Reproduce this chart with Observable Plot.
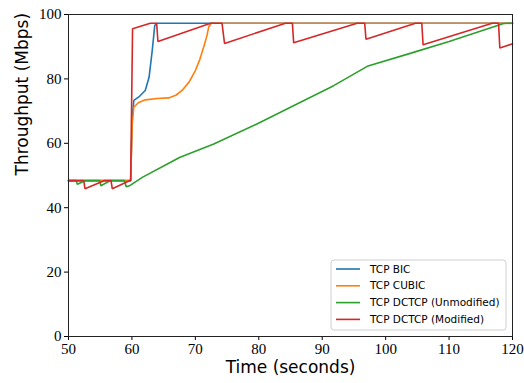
<!DOCTYPE html>
<html>
<head>
<meta charset="utf-8">
<script src="https://cdn.jsdelivr.net/npm/d3@7"></script>
<script src="https://cdn.jsdelivr.net/npm/@observablehq/plot@0.6"></script>
<style>
  html, body { margin: 0; padding: 0; background: #fff; }
  #chart svg { display: block; }
</style>
</head>
<body>
<div id="chart"></div>
<script>
// ---- data ----
const seriesNames = ["TCP BIC", "TCP CUBIC", "TCP DCTCP (Unmodified)", "TCP DCTCP (Modified)"];
const seriesColors = ["#1f77b4", "#ff7f0e", "#2ca02c", "#d62728"];
const xTicks = [50, 60, 70, 80, 90, 100, 110, 120];
const yTicks = [0, 20, 40, 60, 80, 100];

const bicTime = [50, 59.8, 60.05, 60.3, 61.2, 62.1, 62.7, 63.2, 63.6, 63.9, 120];
const bicThroughput = [48.4, 48.4, 68, 73.3, 74.6, 76.4, 80.5, 88.8, 96.6, 97.3, 97.3];

const cubicTime = [50, 59.8, 60.05, 60.3, 61.0, 62.1, 64.0, 65.8, 67.0, 67.9, 69.0, 70.0, 70.7, 71.3, 71.8, 72.1, 72.5, 120];
const cubicThroughput = [48.4, 48.4, 66, 71.2, 72.6, 73.5, 73.9, 74.1, 75.0, 76.4, 79.0, 82.6, 86.0, 89.8, 93.2, 96.1, 97.3, 97.3];

const dctcpTime = [50, 51.2, 51.4, 52.6, 54.9, 55.1, 56.6, 58.8, 59.1, 59.6, 61.7, 66.1, 67.5, 72.9, 79.7, 86.1, 91.8, 97.1, 104.0, 110.0, 118.6, 120];
const dctcpThroughput = [48.4, 48.4, 47.3, 48.4, 48.4, 46.8, 48.4, 48.4, 46.5, 46.8, 49.5, 54.1, 55.6, 59.8, 66.0, 72.3, 77.9, 83.9, 88.0, 91.6, 97.2, 97.3];

const modTime = [50, 52.4, 52.6, 55.6, 56.7, 56.9, 59.6, 59.8, 60.1, 62.9, 63.9, 64.1, 72.4, 74.2, 74.6, 84.2, 85.3, 85.5, 95.5, 96.7, 96.9, 104.7, 105.7, 105.9, 116.8, 117.8, 118.0, 120];
const modThroughput = [48.4, 48.4, 45.9, 48.4, 48.4, 45.9, 48.4, 48.4, 95.6, 97.3, 97.3, 91.6, 97.3, 97.3, 91.0, 97.3, 97.3, 91.2, 97.3, 97.3, 92.3, 97.3, 97.3, 90.6, 97.3, 97.3, 89.6, 90.9];

// ---- build tables ----
const toRows = (ts, vs) => ts.map((t, i) => ({t, v: vs[i]}));
const series = [
  toRows(bicTime, bicThroughput),
  toRows(cubicTime, cubicThroughput),
  toRows(dctcpTime, dctcpThroughput),
  toRows(modTime, modThroughput)
];

const W = 524, H = 383;
const mL = 68, mR = 12, mT = 14, mB = 47;
const serif = "'Liberation Serif', 'DejaVu Serif', serif";
const sans = "'DejaVu Sans', 'Liberation Sans', sans-serif";

const plot = Plot.plot({
  width: W,
  height: H,
  marginLeft: mL,
  marginRight: mR,
  marginTop: mT,
  marginBottom: mB,
  style: {background: "#fff", color: "#000", overflow: "visible"},
  x: {domain: [50, 120]},
  y: {domain: [0, 100]},
  marks: [
    Plot.axisX({ticks: xTicks, tickSize: 4, tickPadding: 3, fontSize: 15, fontFamily: serif, label: null, tickFormat: d => String(d)}),
    Plot.axisY({ticks: yTicks, tickSize: 4, tickPadding: 3, fontSize: 15, fontFamily: serif, label: null, tickFormat: d => String(d)}),
    ...series.map((rows, i) => Plot.line(rows, {x: "t", y: "v", stroke: seriesColors[i], strokeWidth: 1.6, strokeLinejoin: "miter"})),
    Plot.frame({stroke: "#222", strokeWidth: 1}),
    Plot.text(["Time (seconds)"], {frameAnchor: "bottom", dy: 36, fontSize: 17, fontFamily: sans, fill: "#000"}),
    Plot.text(["Throughput (Mbps)"], {frameAnchor: "left", dx: -46, rotate: -90, fontSize: 17, fontFamily: sans, fill: "#000"})
  ]
});

document.getElementById("chart").appendChild(plot);

// ---- legend inside the plot area (lower right) ----
const svg = d3.select(plot);
const lg = svg.append("g").attr("transform", "translate(331,260)").attr("text-anchor", "start");
lg.append("rect")
  .attr("x", 0).attr("y", 0).attr("width", 175).attr("height", 70)
  .attr("rx", 3).attr("ry", 3)
  .attr("fill", "#fff").attr("fill-opacity", 0.85)
  .attr("stroke", "#d0d0d0").attr("stroke-width", 1);
seriesNames.forEach((name, i) => {
  const y = 9 + i * 16.8;
  lg.append("line")
    .attr("x1", 5).attr("x2", 29).attr("y1", y).attr("y2", y)
    .attr("stroke", seriesColors[i]).attr("stroke-width", 1.6);
  lg.append("text")
    .attr("x", 39).attr("y", y).attr("dy", "0.35em")
    .attr("text-anchor", "start")
    .attr("font-family", sans).attr("font-size", 10.5).attr("fill", "#000")
    .text(name);
});
</script>
</body>
</html>
